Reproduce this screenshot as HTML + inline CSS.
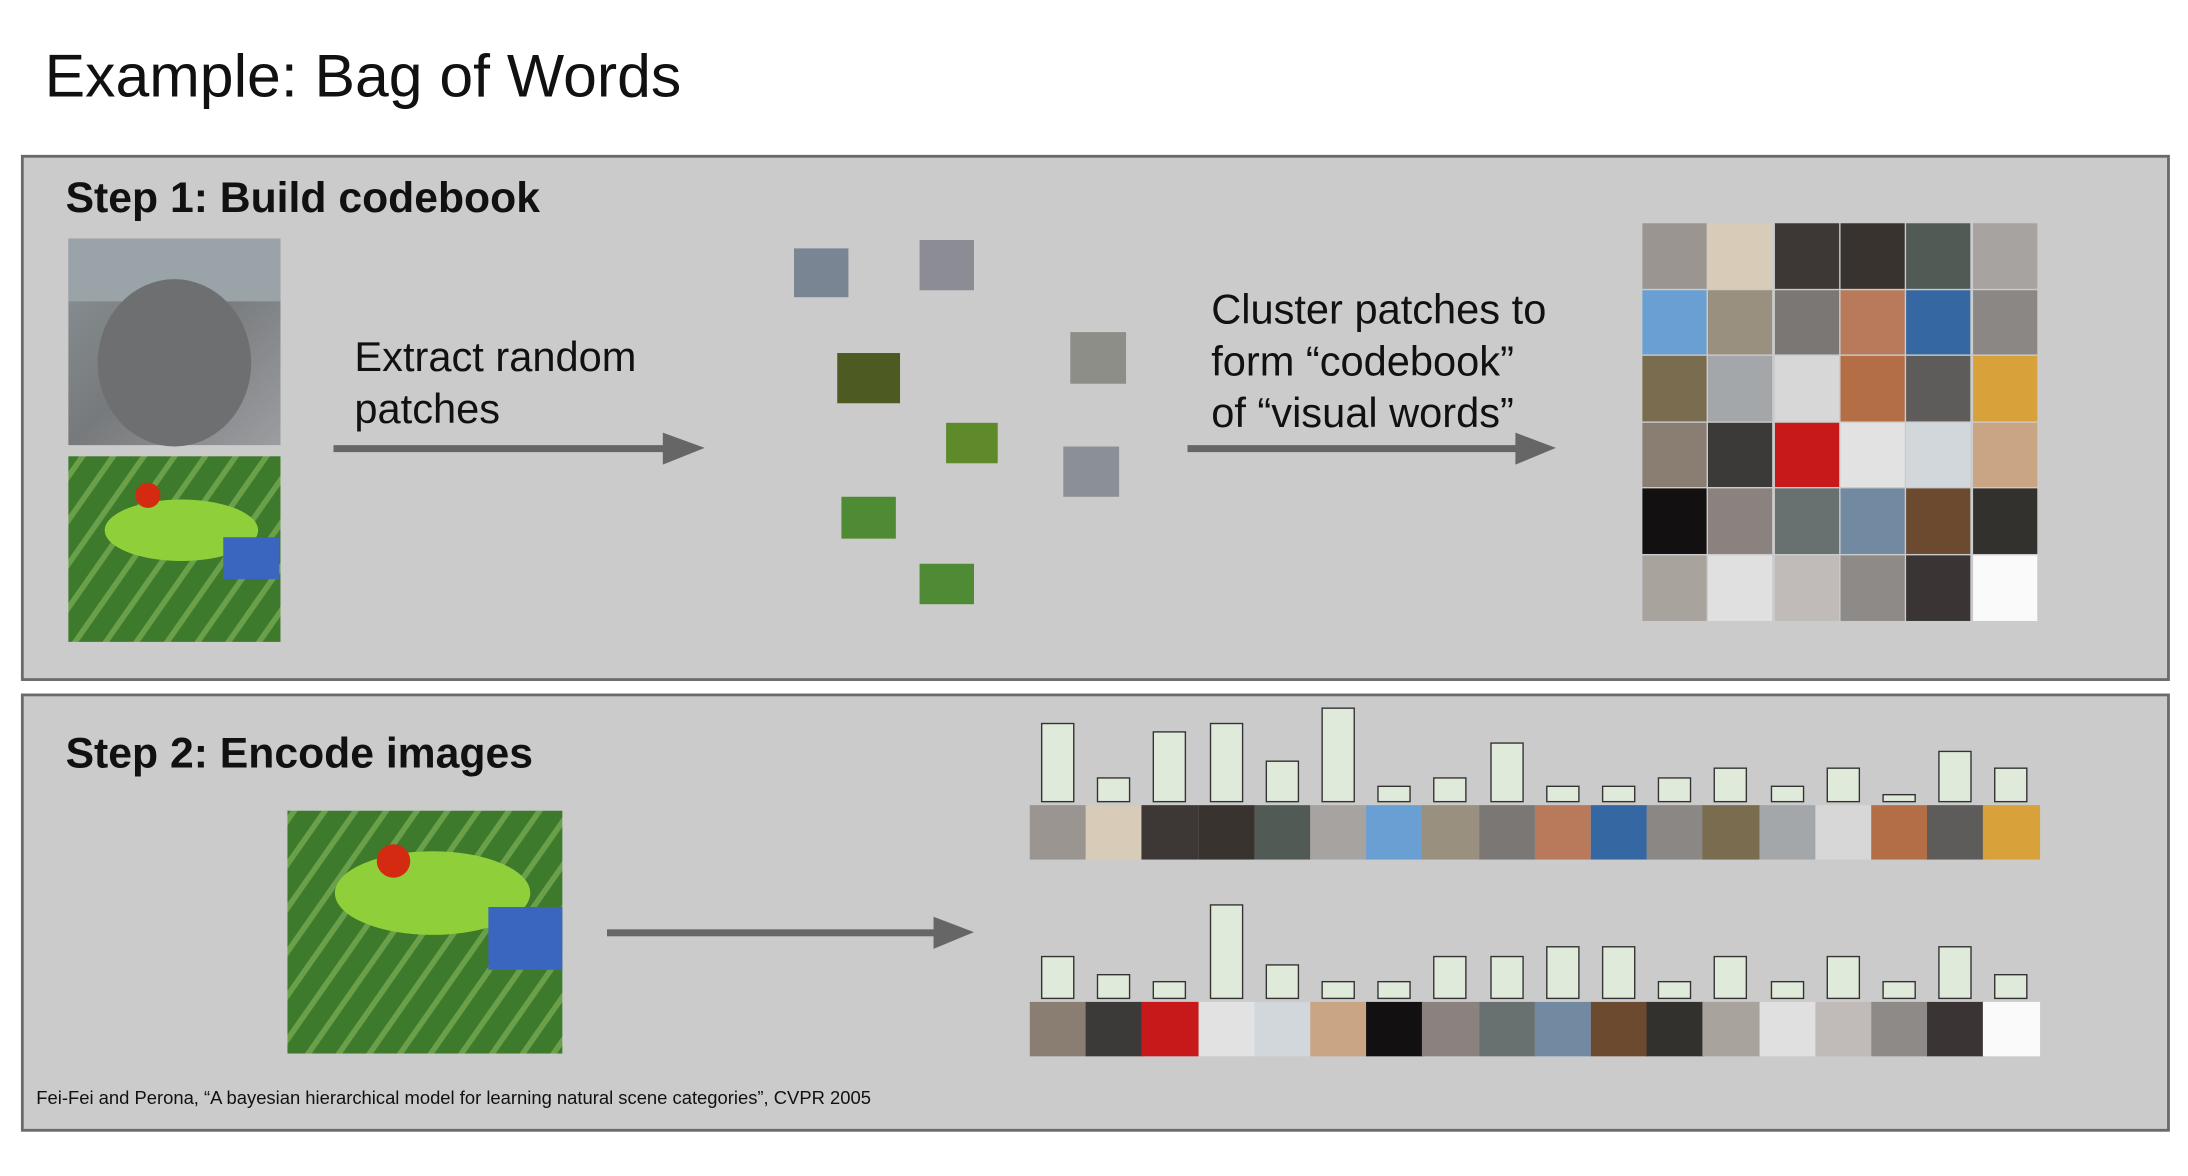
<!DOCTYPE html>
<html><head><meta charset="utf-8"><style>
*{margin:0;padding:0;box-sizing:border-box}
body{width:2188px;height:1176px;background:#fff;overflow:hidden;font-family:"Liberation Sans",Arial,sans-serif}
#c{position:absolute;left:0;top:0;width:1568px;height:843px;transform:scale(1.3954);transform-origin:0 0}
.a{position:absolute}
.box{position:absolute;background:#cbcbcb;border:2px solid #6a6a6a}
.t{position:absolute;white-space:nowrap;color:#111}
.p{position:absolute}
.bar{position:absolute;background:#dfeadb;border:1.5px solid #333;width:24px}
</style></head><body><div id="c">
<div class="t" style="left:32px;top:31px;font-size:43.5px">Example: Bag of Words</div>
<div class="box" style="left:15px;top:111px;width:1540px;height:377px"></div>
<div class="box" style="left:15px;top:497px;width:1540px;height:314px"></div>
<div class="t" style="left:47px;top:125px;font-size:30.6px;font-weight:bold">Step 1: Build codebook</div>
<div class="t" style="left:47px;top:523px;font-size:30.6px;font-weight:bold">Step 2: Encode images</div>
<div class="t" style="left:254px;top:238px;font-size:29.8px;line-height:37px">Extract random<br>patches</div>
<div class="t" style="left:868px;top:204px;font-size:29.8px;line-height:37px">Cluster patches to<br>form “codebook”<br>of “visual words”</div>
<div class="t" style="left:26px;top:779px;font-size:13.2px">Fei-Fei and Perona, “A bayesian hierarchical model for learning natural scene categories”, CVPR 2005</div>

<svg class="a" style="left:0;top:0" width="1568" height="843">
<g fill="#666"><rect x="239" y="319" width="240" height="5"/><polygon points="475,310 505,321 475,333"/>
<rect x="851" y="319" width="238" height="5"/><polygon points="1086,310 1115,321 1086,333"/>
<rect x="435" y="666" width="238" height="5"/><polygon points="669,657 698,668 669,680"/></g>
<defs>
<linearGradient id="cat" x1="0" y1="0" x2="1" y2="1"><stop offset="0" stop-color="#8a9296"/><stop offset=".5" stop-color="#777a7c"/><stop offset="1" stop-color="#9b9da0"/></linearGradient>
<pattern id="leaf" width="18" height="18" patternUnits="userSpaceOnUse" patternTransform="rotate(35)"><rect width="18" height="18" fill="#3e7a2c"/><rect width="4" height="18" fill="#6aa04a"/></pattern>
</defs>
<rect x="49" y="171" width="152" height="148" fill="url(#cat)"/>
<rect x="49" y="171" width="152" height="45" fill="#9aa4a8"/>
<ellipse cx="125" cy="260" rx="55" ry="60" fill="#6d6f70"/>
<rect x="49" y="327" width="152" height="133" fill="url(#leaf)"/>
<ellipse cx="130" cy="380" rx="55" ry="22" fill="#8fcf3a"/>
<circle cx="106" cy="355" r="9" fill="#d52a12"/>
<rect x="160" y="385" width="40" height="30" fill="#3a66c0"/>
<rect x="206" y="581" width="197" height="174" fill="url(#leaf)"/>
<ellipse cx="310" cy="640" rx="70" ry="30" fill="#8fcf3a"/>
<circle cx="282" cy="617" r="12" fill="#d52a12"/>
<rect x="350" y="650" width="53" height="45" fill="#3a66c0"/>
<g>
<rect x="569" y="178" width="39" height="35" fill="#7a8594"/>
<rect x="659" y="172" width="39" height="36" fill="#8c8c94"/>
<rect x="600" y="253" width="45" height="36" fill="#4d5a22"/>
<rect x="767" y="238" width="40" height="37" fill="#8e8e88"/>
<rect x="678" y="303" width="37" height="29" fill="#5f8a2a"/>
<rect x="762" y="320" width="40" height="36" fill="#8a9096"/>
<rect x="603" y="356" width="39" height="30" fill="#4f8a34"/>
<rect x="659" y="404" width="39" height="29" fill="#4f8a34"/>
</g>
</svg>
<div id="grid"></div>
</div>
<script>
var cols=[
["#9a9590","#d8cbb8","#3d3835","#39332f","#525a55","#a6a3a0"],
["#6a9fd4","#9a9080","#7a7775","#b87a5a","#3568a2","#8a8785"],
["#7a6c4e","#a3a7a9","#d7d7d7","#b46e45","#5e5c5a","#d9a13a"],
["#8a7d72","#3c3a39","#c8191a","#e2e2e2","#d2d7dc","#c9a584"],
["#121010","#8b8280","#687070","#7289a2","#6c4a30","#33312e"],
["#a9a39d","#e0e0e0","#c0bbb8","#8d8a88","#3a3534","#fafafa"]];
var g=document.getElementById('grid'),s='';
for(var r=0;r<6;r++)for(var c=0;c<6;c++)s+='<div class="p" style="left:'+(1177+c*47.3)+'px;top:'+(160+r*47.6)+'px;width:46px;height:46.5px;background:'+cols[r][c]+'"></div>';
var t1=[518,557,524,518,545,507,563,557,532,563,563,557,550,563,550,569,538,550];
var t2=[685,698,703,648,691,703,703,685,685,678,678,703,685,703,685,703,678,698];
for(var k=0;k<2;k++){var sy=k?718:577,bb=k?716:575,tt=k?t2:t1;
for(var i=0;i<18;i++){var x=738+i*40.2;var cc=cols[k*3+Math.floor(i/6)][i%6];
s+='<div class="p" style="left:'+x+'px;top:'+sy+'px;width:40.5px;height:39px;background:'+cc+'"></div>';
s+='<div class="bar" style="left:'+(x+8)+'px;top:'+tt[i]+'px;height:'+(bb-tt[i])+'px"></div>';}}
g.innerHTML=s;
</script>
</body></html>
